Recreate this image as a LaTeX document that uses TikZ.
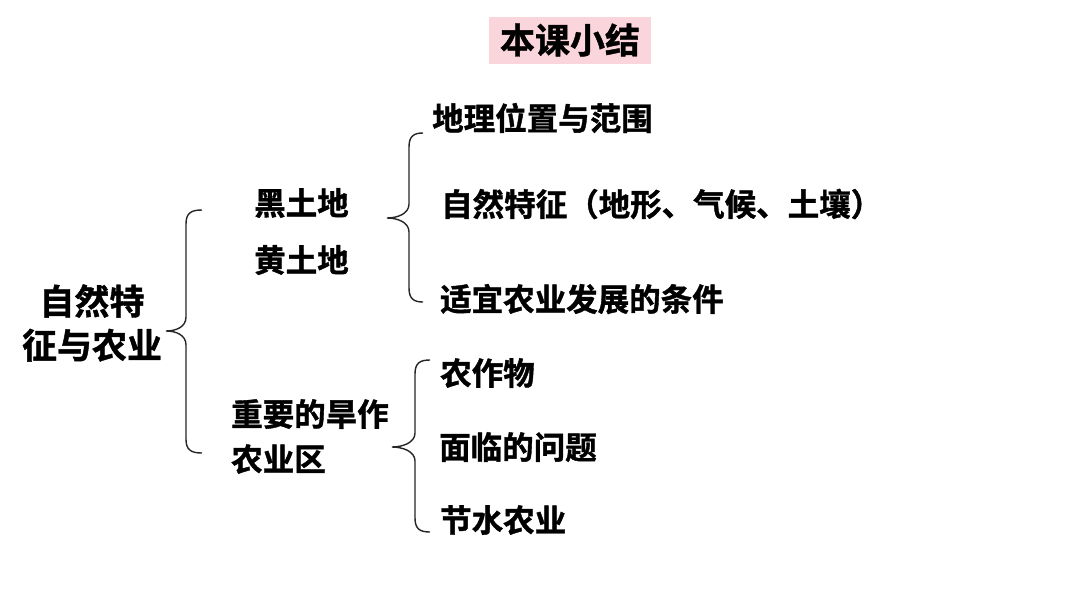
\documentclass[tikz,border=0pt]{standalone}
\usepackage{fontspec}
\setmainfont{Noto Sans CJK SC}[BoldFont={Noto Sans CJK SC Bold},BoldFeatures={FakeBold=1.2}]
\definecolor{titlepink}{RGB}{250,214,220}
\newcommand\curlybr[6]{% xtop-end, ytop, xvert, xtip, ytip, ybottom
  \draw[bracestyle] (#1,#2) .. controls (#3+5,#2) and (#3,#2+3) .. (#3,#2+14)
    -- (#3,#5-14) .. controls (#3,#5-4) and (#4+10,#5) .. (#4,#5)
    .. controls (#4+10,#5) and (#3,#5+4) .. (#3,#5+14)
    -- (#3,#6-14) .. controls (#3,#6-3) and (#3+5,#6) .. (#1,#6);}
\begin{document}
\begin{tikzpicture}[x=1pt,y=-1pt,
  bracestyle/.style={line width=1.4pt,draw=black!85},
  lbl/.style={anchor=west,inner sep=0pt,font=\fontsize{31.5}{36}\selectfont\bfseries},
  big/.style={anchor=center,inner sep=0pt,font=\fontsize{35}{44}\selectfont\bfseries,align=center}]
\useasboundingbox[fill=white] (0,0) rectangle (1080,608);
\node[fill=titlepink,minimum width=162pt,minimum height=47pt,inner sep=0pt,font=\fontsize{35}{40}\selectfont\bfseries] (title) at (570,40) {本课小结};
\node[big] (root) at (92,323) {自然特\\征与农业};
\node[lbl] (a1) at (254,203) {黑土地};
\node[lbl] (a2) at (254,260) {黄土地};
\node[lbl,align=left,anchor=north west] (b) at (231,399) {重要的旱作\\[9pt]农业区};
\node[lbl] (c1) at (432,118) {地理位置与范围};
\node[lbl] (c2) at (441,204) {自然特征（地形、气候、土壤）};
\node[lbl] (c3) at (440,299) {适宜农业发展的条件};
\node[lbl] (d1) at (440,373) {农作物};
\node[lbl] (d2) at (439,447) {面临的问题};
\node[lbl] (d3) at (440,520) {节水农业};
\curlybr{202}{210}{186}{166}{331}{453}
\curlybr{423}{133}{409}{387}{218}{302}
\curlybr{430}{360}{415}{392}{447}{532}
\end{tikzpicture}
\end{document}
